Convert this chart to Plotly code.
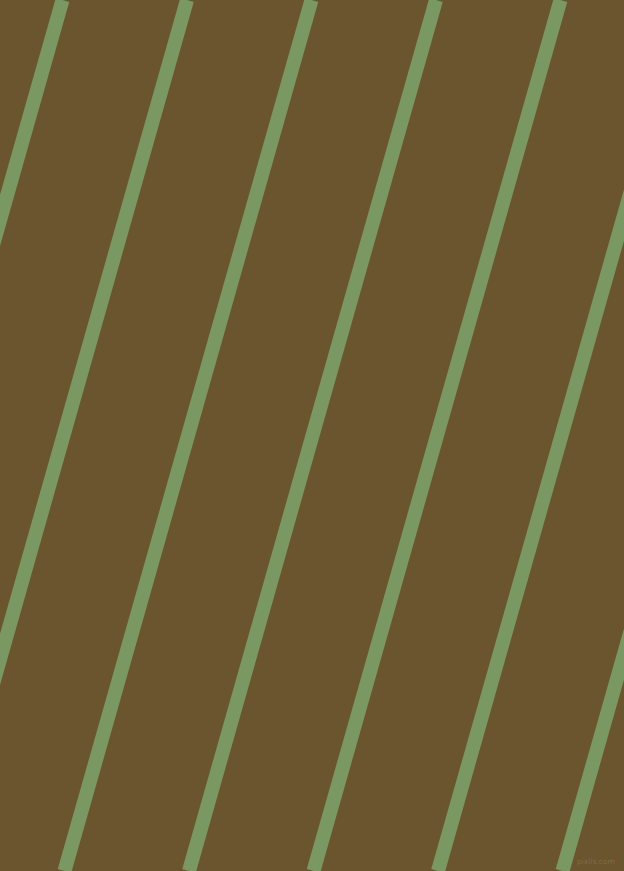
import plotly.graph_objects as go

# Stripe centre lines: x position at the top edge (y=0) and bottom edge (y=871)
y_ends = [0, 871]
x_top = [62.5, 187, 311.5, 436, 560.5, 685, 809.5, 934]
x_bottom = [-184.5, -60, 64.5, 189, 313.5, 438, 562.5, 687]

bg_color = "#6B552E"
stripe_color = "#7A9962"

fig = go.Figure()
for xt, xb in zip(x_top, x_bottom):
    fig.add_trace(go.Scatter(
        x=[xt, xb], y=y_ends, mode="lines",
        line=dict(color=stripe_color, width=14),
        hoverinfo="skip", showlegend=False,
    ))

fig.add_annotation(
    x=617, y=861, xref="x", yref="y", text="pixlis.com", showarrow=False,
    xanchor="right", yanchor="middle",
    font=dict(family="DejaVu Sans", size=7.5, color="#7E6C45"),
)

fig.update_layout(
    width=624, height=871,
    margin=dict(l=0, r=0, t=0, b=0),
    paper_bgcolor=bg_color, plot_bgcolor=bg_color,
    xaxis=dict(range=[0, 624], visible=False, fixedrange=True),
    yaxis=dict(range=[871, 0], visible=False, fixedrange=True),
)

fig.write_html(
    "out.html",
    config={"displayModeBar": False},
    post_script="document.body.style.margin='0';document.body.style.overflow='hidden';",
)
